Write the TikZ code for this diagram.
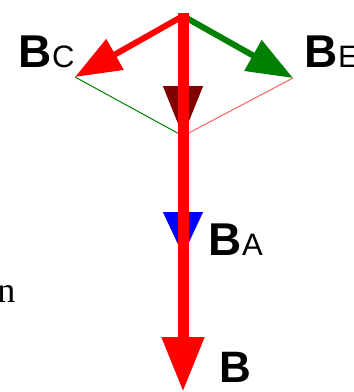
\documentclass[tikz,border=0pt]{standalone}
\usepackage{fontspec}
\newfontfamily\lsans{Liberation Sans}
\newfontfamily\lserif{Liberation Serif}
\usetikzlibrary{arrows.meta}
\definecolor{vred}{HTML}{FF0000}
\definecolor{vgreen}{HTML}{008000}
\definecolor{vdark}{HTML}{800000}
\definecolor{vblue}{HTML}{0000FF}
\definecolor{vpink}{HTML}{FF6060}
\begin{document}
\begin{tikzpicture}[x=1pt,y=-1pt,
  lbl/.style={anchor=base west, inner sep=0pt, font=\lsans},
  bigB/.style={},
  thinline/.style={line width=1pt},
  sidevec/.style={line width=6pt, -{Triangle[length=46pt,width=34pt]}},
  mainvec/.style={vred, line width=11pt, -{Triangle[length=55pt,width=40pt]}}
]
\useasboundingbox (0,0) rectangle (354,392);
\clip (0,0) rectangle (354,392);
\coordinate (O) at (183,13);
\coordinate (Os) at (183,16);
\coordinate (Ctip) at (75,77);
\coordinate (Etip) at (293,78);
\coordinate (R) at (183,136);
\coordinate (Ap) at (183,255);
\coordinate (Bp) at (183,392);
% parallelogram sides
\draw[thinline, vgreen] (Ctip) -- (R);
\draw[thinline, vpink] (Etip) -- (R);
% hidden component vectors (only heads visible)
\draw[vdark, line width=1pt, -{Triangle[length=50pt,width=40pt]}] (O) -- (R);
\draw[vblue, line width=1pt, -{Triangle[length=43pt,width=40pt]}] (O) -- (Ap);
% side vectors
\draw[sidevec, vred] (Os) -- (Ctip);
\draw[sidevec, vgreen] (Os) -- (Etip);
% resultant
\draw[mainvec] (O) -- (Bp);
% labels
\node[lbl] (lC) at (18.6,67) {{\fontsize{46}{46}\bfseries\selectfont B}{\fontsize{31}{31}\selectfont C}};
\node[lbl] (lE) at (304.6,67) {{\fontsize{46}{46}\bfseries\selectfont B}{\fontsize{31}{31}\selectfont E}};
\node[lbl] (lA) at (208.6,255) {{\fontsize{46}{46}\bfseries\selectfont B}{\fontsize{31}{31}\selectfont A}};
\node[lbl] (lB) at (219.6,382) {{\fontsize{44}{44}\bfseries\selectfont B}};
\node[anchor=base east, inner sep=0pt, font=\lserif\fontsize{36}{36}\selectfont] (ln) at (15.5,302) {n};
\end{tikzpicture}
\end{document}
